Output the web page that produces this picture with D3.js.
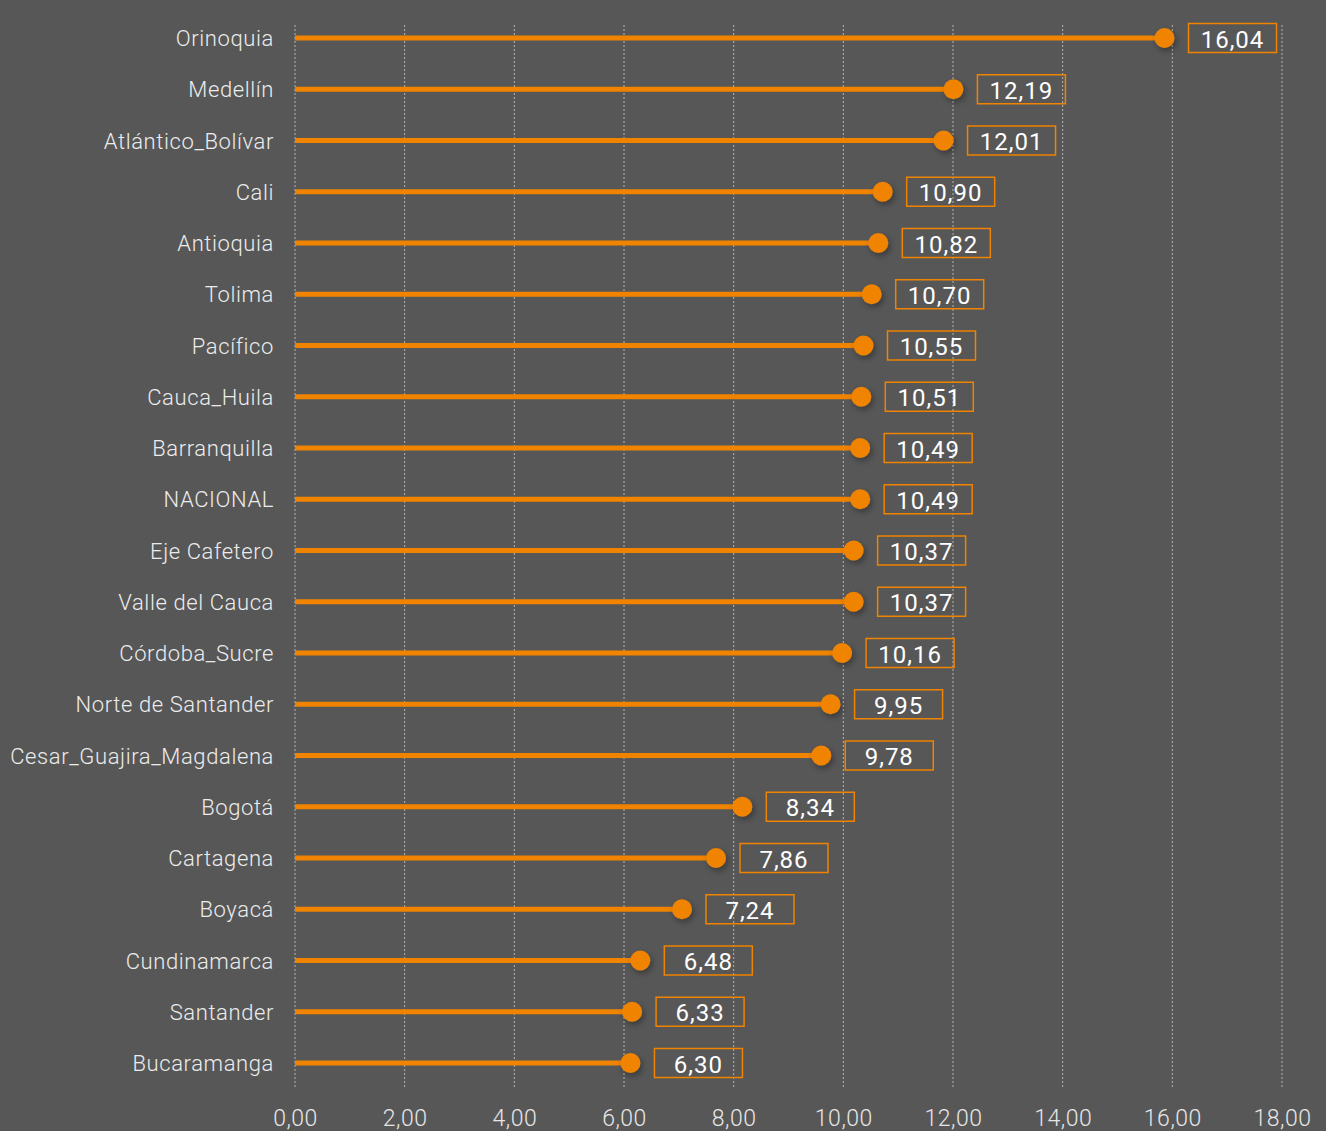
<!DOCTYPE html>
<html>
<head>
<meta charset="utf-8">
<title>Lollipop</title>
<script src="https://d3js.org/d3.v7.min.js"></script>
<style>
  body { margin: 0; background: #575757; }
  svg text { font-family: Roboto, "Noto Sans", sans-serif; font-weight: 300; }
  svg text.val { font-weight: 400; }
</style>
</head>
<body>
<div id="chart"></div>
<script>
var regions = ["Orinoquia", "Medellín", "Atlántico_Bolívar", "Cali", "Antioquia", "Tolima",
  "Pacífico", "Cauca_Huila", "Barranquilla", "NACIONAL", "Eje Cafetero", "Valle del Cauca",
  "Córdoba_Sucre", "Norte de Santander", "Cesar_Guajira_Magdalena", "Bogotá", "Cartagena",
  "Boyacá", "Cundinamarca", "Santander", "Bucaramanga"];
var values = [16.04, 12.19, 12.01, 10.90, 10.82, 10.70, 10.55, 10.51, 10.49, 10.49, 10.37,
  10.37, 10.16, 9.95, 9.78, 8.34, 7.86, 7.24, 6.48, 6.33, 6.30];
var xTicks = [0, 2, 4, 6, 8, 10, 12, 14, 16, 18];

var width = 1326, height = 1131;
var orange = "#f08300";
var r = 10;

var svg = d3.select("#chart").append("svg")
  .attr("width", width)
  .attr("height", height);

svg.append("rect").attr("width", width).attr("height", height).attr("fill", "#575757");

var defs = svg.append("defs");
var f = defs.append("filter").attr("id", "shadow")
  .attr("x", "-50%").attr("y", "-50%").attr("width", "200%").attr("height", "200%");
f.append("feDropShadow").attr("dx", 2).attr("dy", 3).attr("stdDeviation", 3)
  .attr("flood-color", "#000").attr("flood-opacity", 0.35);

var x = d3.scaleLinear().domain([0, 18]).range([295, 1282]);
var y = d3.scalePoint().domain(regions).range([38, 1063]);

var fmt = function(v) { return d3.format(".2f")(v).replace(".", ","); };

// grid
svg.append("g").selectAll("line")
  .data(xTicks)
  .join("line")
  .attr("x1", d => x(d)).attr("x2", d => x(d))
  .attr("y1", 25).attr("y2", 1088)
  .attr("stroke", "#b5b5b5")
  .attr("stroke-width", 1)
  .attr("stroke-dasharray", "2,2");

// x axis labels
var xAxis = d3.axisBottom(x).tickValues(xTicks).tickFormat(fmt).tickSize(0).tickPadding(0);
var gX = svg.append("g")
  .attr("transform", "translate(0,1104)")
  .call(xAxis);
gX.select(".domain").remove();
gX.selectAll("text")
  .attr("font-size", 23)
  .attr("letter-spacing", 0.5)
  .attr("fill", "#e6e6e6")
  .attr("dy", "0.95em")
  .attr("y", 0);

// y labels
var yAxis = d3.axisLeft(y).tickSize(0).tickPadding(0);
var gY = svg.append("g")
  .attr("transform", "translate(274,0)")
  .call(yAxis);
gY.select(".domain").remove();
gY.selectAll("text")
  .attr("font-size", 22)
  .attr("letter-spacing", 0.6)
  .attr("fill", "#ececec")
  .attr("dy", "0.35em")
  .attr("x", 0);

var rows = svg.append("g").selectAll("g")
  .data(regions.map((d, i) => ({ name: d, value: values[i] })))
  .join("g")
  .attr("transform", d => "translate(0," + y(d.name) + ")");

rows.append("line")
  .attr("x1", x(0))
  .attr("x2", d => x(d.value) - r)
  .attr("stroke", orange)
  .attr("stroke-width", 5);

rows.append("circle")
  .attr("cx", d => x(d.value) - r)
  .attr("r", r)
  .attr("fill", orange)
  .attr("filter", "url(#shadow)");

rows.append("rect")
  .attr("x", d => x(d.value) + 14)
  .attr("y", -14.5)
  .attr("width", 88)
  .attr("height", 29)
  .attr("fill", "none")
  .attr("stroke", orange)
  .attr("stroke-width", 1.5);

rows.append("text")
  .attr("class", "val")
  .attr("x", d => x(d.value) + 58)
  .attr("y", 0)
  .attr("dy", "0.4em")
  .attr("text-anchor", "middle")
  .attr("font-size", 24)
  .attr("letter-spacing", 1)
  .attr("fill", "#ffffff")
  .text(d => fmt(d.value));
</script>
</body>
</html>
